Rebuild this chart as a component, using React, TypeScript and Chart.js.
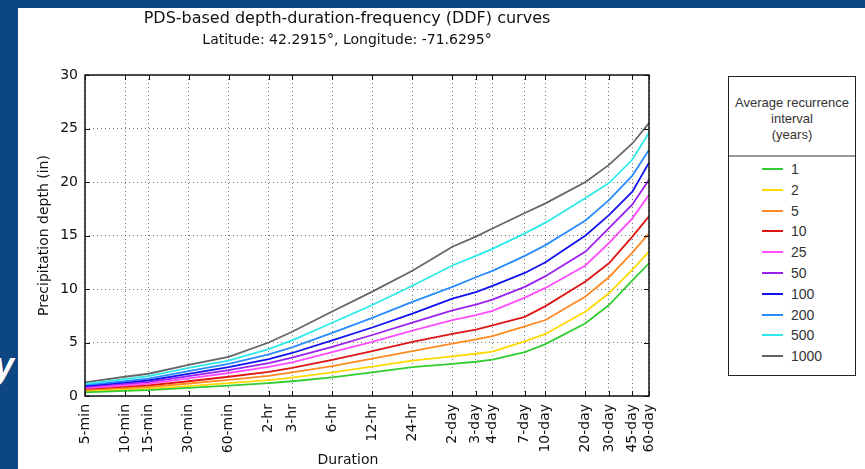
import React, { useEffect, useRef } from "react";
import { Chart, registerables } from "chart.js";

Chart.register(...registerables);

// ---- data ----
const durationLabels = [
  "5-min", "10-min", "15-min", "30-min", "60-min", "2-hr", "3-hr", "6-hr", "12-hr", "24-hr",
  "2-day", "3-day", "4-day", "7-day", "10-day", "20-day", "30-day", "45-day", "60-day",
];
const durationMinutes = [
  5, 10, 15, 30, 60, 120, 180, 360, 720, 1440, 2880, 4320, 5760, 10080, 14400, 28800, 43200, 64800, 86400,
];
const intervals = ["1", "2", "5", "10", "25", "50", "100", "200", "500", "1000"];
const seriesColors = [
  "#33cc33", "#ffd800", "#ff8a22", "#dd1515", "#ff4dff", "#9b22ee", "#1212ee", "#2a8cff", "#2eeaea", "#666666",
];

const ari1 = [0.33, 0.47, 0.55, 0.75, 0.97, 1.2, 1.38, 1.75, 2.2, 2.7, 3.0, 3.2, 3.4, 4.1, 4.85, 6.8, 8.5, 10.8, 12.4];
const ari2 = [0.4, 0.57, 0.67, 0.93, 1.2, 1.48, 1.72, 2.2, 2.75, 3.3, 3.7, 3.95, 4.15, 5.1, 5.8, 7.9, 9.6, 11.8, 13.5];
const ari5 = [0.5, 0.71, 0.84, 1.17, 1.5, 1.88, 2.2, 2.8, 3.5, 4.2, 4.9, 5.3, 5.6, 6.5, 7.1, 9.3, 11.1, 13.4, 15.2];
const ari10 = [0.58, 0.83, 0.98, 1.38, 1.8, 2.25, 2.62, 3.38, 4.2, 5.05, 5.8, 6.2, 6.6, 7.4, 8.4, 10.7, 12.4, 14.9, 16.8];
const ari25 = [0.69, 0.98, 1.16, 1.64, 2.15, 2.72, 3.15, 4.1, 5.05, 6.1, 7.1, 7.55, 7.95, 9.2, 10.1, 12.2, 14.3, 16.6, 18.8];
const ari50 = [0.78, 1.1, 1.3, 1.85, 2.42, 3.08, 3.58, 4.6, 5.7, 6.85, 8.0, 8.55, 9.0, 10.2, 11.2, 13.5, 15.7, 17.9, 20.2];
const ari100 = [0.87, 1.23, 1.45, 2.06, 2.7, 3.45, 4.02, 5.2, 6.4, 7.7, 9.1, 9.7, 10.3, 11.5, 12.5, 15.0, 16.9, 19.1, 21.8];
const ari200 = [0.98, 1.38, 1.63, 2.32, 3.0, 3.88, 4.55, 5.9, 7.3, 8.8, 10.2, 11.1, 11.7, 13.1, 14.1, 16.4, 18.3, 20.6, 23.0];
const ari500 = [1.12, 1.58, 1.86, 2.62, 3.3, 4.38, 5.2, 6.85, 8.5, 10.3, 12.2, 13.1, 13.75, 15.2, 16.2, 18.5, 19.9, 22.1, 24.6];
const ari1000 = [1.28, 1.8, 2.08, 2.9, 3.65, 5.0, 6.0, 7.9, 9.75, 11.7, 13.95, 14.9, 15.65, 17.1, 18.0, 20.0, 21.6, 23.6, 25.5];
const seriesValues = [ari1, ari2, ari5, ari10, ari25, ari50, ari100, ari200, ari500, ari1000];

const yTickStep = 5;
const yMin = 0;
const yMax = 30;

const titleText = "PDS-based depth-duration-frequency (DDF) curves";
const subtitleText = "Latitude: 42.2915°, Longitude: -71.6295°";
const xAxisTitle = "Duration";
const yAxisTitle = "Precipitation depth (in)";
const legendTitle = ["Average recurrence", "interval", "(years)"];

const BLUE = "#0c4784";
const FONT = '"DejaVu Sans", sans-serif';
const LEGEND_FONT = '"Liberation Sans", Arial, sans-serif';

const framePlugin = {
  id: "frameTicks",
  afterDraw(chart: any) {
    const { ctx, chartArea, scales } = chart;
    const { left, right, top, bottom } = chartArea;
    const xs = scales.x;
    const ys = scales.y;
    ctx.save();
    ctx.strokeStyle = "#111";
    ctx.lineWidth = 1;
    ctx.beginPath();
    xs.ticks.forEach((_t: any, i: number) => {
      const px = Math.round(xs.getPixelForTick(i)) + 0.5;
      ctx.moveTo(px, bottom);
      ctx.lineTo(px, bottom - 5);
      ctx.moveTo(px, top);
      ctx.lineTo(px, top + 5);
    });
    ys.ticks.forEach((_t: any, i: number) => {
      const py = Math.round(ys.getPixelForTick(i)) + 0.5;
      ctx.moveTo(left, py);
      ctx.lineTo(left + 5, py);
      ctx.moveTo(right, py);
      ctx.lineTo(right - 5, py);
    });
    ctx.stroke();
    ctx.lineWidth = 1.5;
    ctx.strokeStyle = "#111";
    ctx.strokeRect(left, top, right - left, bottom - top);
    ctx.restore();
  },
};

export default function App() {
  const canvasRef = useRef<HTMLCanvasElement | null>(null);

  useEffect(() => {
    const canvas = canvasRef.current;
    if (!canvas) return;
    const datasets = intervals.map((lab, i) => ({
      label: lab,
      data: durationMinutes.map((m, j) => ({ x: m, y: seriesValues[i][j] })),
      borderColor: seriesColors[i],
      backgroundColor: seriesColors[i],
      borderWidth: 1.8,
      pointRadius: 0,
      fill: false,
      tension: 0,
    }));
    const gridCommon = { color: "rgba(0,0,0,0.55)", lineWidth: 1, drawTicks: false };
    const chart = new Chart(canvas, {
      type: "line",
      data: { datasets },
      plugins: [framePlugin],
      options: {
        animation: false,
        responsive: false,
        layout: { padding: { left: 0, top: 75, right: 51, bottom: 0 } },
        plugins: {
          legend: { display: false },
          tooltip: { enabled: false },
          title: { display: false },
        },
        scales: {
          x: {
            type: "logarithmic",
            min: durationMinutes[0],
            max: durationMinutes[durationMinutes.length - 1],
            bounds: "data",
            afterBuildTicks: (s: any) => {
              s.ticks = durationMinutes.map((v) => ({ value: v }));
            },
            afterFit: (s: any) => {
              s.height = 73;
            },
            ticks: {
              autoSkip: false,
              minRotation: 90,
              maxRotation: 90,
              padding: 8,
              color: "#111",
              font: { family: FONT, size: 14 },
              callback: (_v: any, i: number) => durationLabels[i],
            },
            grid: gridCommon,
            border: { display: false, dash: [1, 3] },
          },
          y: {
            type: "linear",
            min: yMin,
            max: yMax,
            afterFit: (s: any) => {
              s.width = 85;
            },
            ticks: {
              stepSize: yTickStep,
              padding: 7,
              color: "#111",
              font: { family: FONT, size: 14 },
            },
            grid: gridCommon,
            border: { display: false, dash: [1, 3] },
            title: {
              display: true,
              text: yAxisTitle,
              color: "#111",
              font: { family: FONT, size: 14 },
              padding: { top: 36, bottom: 0 },
            },
          },
        },
      } as any,
    });
    return () => chart.destroy();
  }, []);

  return (
    <div
      style={{
        position: "fixed",
        left: 0,
        top: 0,
        width: 865,
        height: 469,
        background: BLUE,
        overflow: "hidden",
      }}
    >
      <div
        style={{
          position: "absolute",
          left: -6,
          top: 346,
          color: "#fff",
          fontFamily: LEGEND_FONT,
          fontWeight: "bold",
          fontStyle: "italic",
          fontSize: 36,
          lineHeight: "40px",
        }}
      >
        y
      </div>
      <div style={{ position: "absolute", left: 18, top: 8, right: 0, bottom: 0, background: "#fff" }} />
      <canvas
        ref={canvasRef}
        width={700}
        height={469}
        style={{ position: "absolute", left: 0, top: 0, width: 700, height: 469 }}
      />
      <div
        style={{
          position: "absolute",
          left: 47,
          width: 600,
          top: 9,
          textAlign: "center",
          fontFamily: FONT,
          fontSize: 16,
          lineHeight: "18px",
          color: "#111",
        }}
      >
        {titleText}
      </div>
      <div
        style={{
          position: "absolute",
          left: 47,
          width: 600,
          top: 31,
          textAlign: "center",
          fontFamily: FONT,
          fontSize: 14,
          lineHeight: "16px",
          color: "#111",
        }}
      >
        {subtitleText}
      </div>
      <div
        style={{
          position: "absolute",
          left: 48,
          width: 600,
          top: 451,
          textAlign: "center",
          fontFamily: FONT,
          fontSize: 14,
          lineHeight: "16px",
          color: "#111",
        }}
      >
        {xAxisTitle}
      </div>
      <div
        style={{
          position: "absolute",
          left: 728,
          top: 76,
          width: 128,
          height: 300,
          boxSizing: "border-box",
          border: "1px solid #222",
          background: "#fff",
          fontFamily: LEGEND_FONT,
          color: "#333",
        }}
      >
        <div
          style={{
            position: "absolute",
            left: 0,
            right: 0,
            top: 18,
            textAlign: "center",
            fontSize: 13,
            lineHeight: "16px",
          }}
        >
          {legendTitle.map((t) => (
            <div key={t}>{t}</div>
          ))}
        </div>
        <div style={{ position: "absolute", left: 0, right: 0, top: 78, height: 2, background: "#999" }} />
        {intervals.map((lab, i) => (
          <div
            key={lab}
            style={{ position: "absolute", left: 0, right: 0, top: 82 + i * 20.8, height: 20 }}
          >
            <div
              style={{
                position: "absolute",
                left: 33,
                width: 21,
                top: 9,
                height: 2,
                background: seriesColors[i],
              }}
            />
            <div
              style={{
                position: "absolute",
                left: 62,
                top: 0,
                fontSize: 14,
                lineHeight: "20px",
              }}
            >
              {lab}
            </div>
          </div>
        ))}
      </div>
    </div>
  );
}
